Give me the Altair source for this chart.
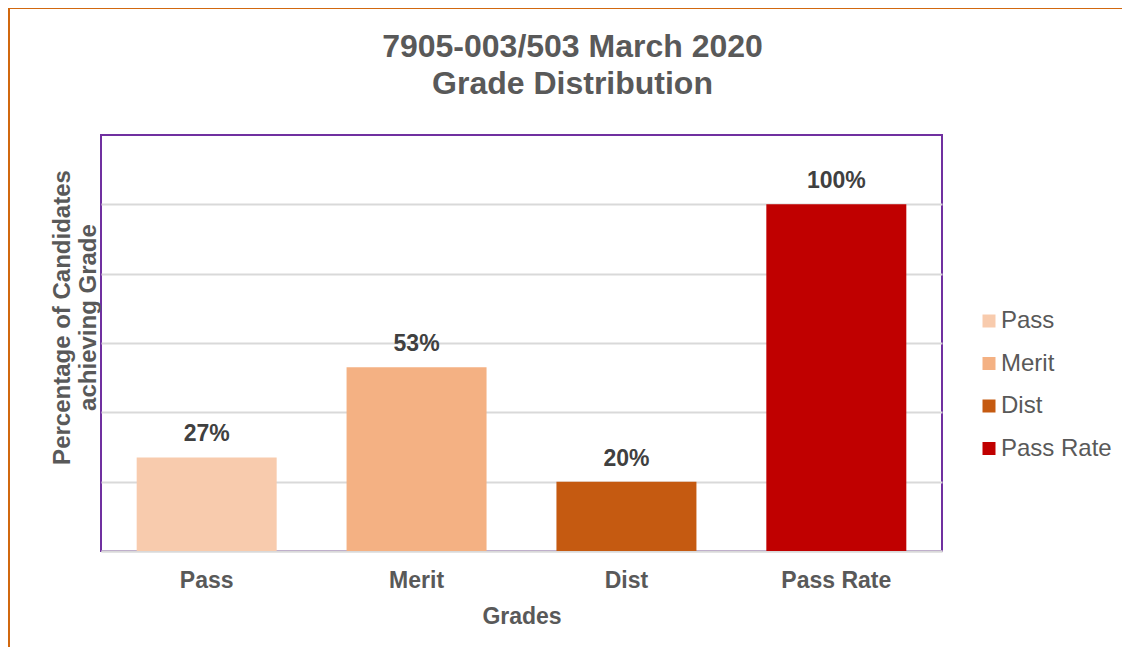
import altair as alt
import pandas as pd

grades = ["Pass", "Merit", "Dist", "Pass Rate"]
percentages = [27, 53, 20, 100]
labels = ["27%", "53%", "20%", "100%"]
colors = ["#F8CBAD", "#F4B183", "#C55A11", "#C00000"]

df = pd.DataFrame({"Grade": grades, "Value": percentages, "Label": labels})

GRAY = "#595959"
FONT = "Liberation Sans"

x_enc = alt.X(
    "Grade:N",
    sort=grades,
    scale=alt.Scale(paddingInner=0.333, paddingOuter=0.17),
    axis=alt.Axis(
        title="Grades",
        labelAngle=0,
        labelFont=FONT,
        labelFontSize=23,
        labelFontWeight="bold",
        labelColor=GRAY,
        labelPadding=18,
        ticks=False,
        domain=True,
        domainColor="#D9D9D9",
        domainWidth=2,
        titleFont=FONT,
        titleFontSize=23,
        titleFontWeight="bold",
        titleColor=GRAY,
        titleBaseline="top",
        titleY=54,
    ),
)

y_enc = alt.Y(
    "Value:Q",
    scale=alt.Scale(domain=[0, 120], nice=False),
    axis=alt.Axis(
        title=["Percentage of Candidates", "achieving Grade"],
        values=[0, 20, 40, 60, 80, 100],
        labels=False,
        ticks=False,
        domain=False,
        grid=True,
        gridColor="#D9D9D9",
        gridWidth=2,
        titleFont=FONT,
        titleFontSize=24,
        titleFontWeight="bold",
        titleColor=GRAY,
        titleAngle=-90,
        titleAlign="center",
        titleBaseline="middle",
        titleLineHeight=26,
        titleX=-39,
        titleY=182,
    ),
)

bars = alt.Chart(df).mark_bar().encode(
    x=x_enc,
    y=y_enc,
    color=alt.Color(
        "Grade:N",
        sort=grades,
        scale=alt.Scale(domain=grades, range=colors),
        legend=alt.Legend(
            title=None,
            orient="none",
            legendX=876,
            legendY=174,
            symbolType="square",
            symbolSize=169,
            symbolStrokeWidth=0,
            labelFont=FONT,
            labelFontSize=24,
            labelColor=GRAY,
            labelOffset=0,
            rowPadding=18.5,
            padding=0,
        ),
    ),
)

text = alt.Chart(df).mark_text(
    font=FONT,
    fontSize=23,
    fontWeight="bold",
    color="#404040",
    baseline="alphabetic",
    dy=-16,
).encode(
    x=alt.X("Grade:N", sort=grades),
    y=alt.Y("Value:Q"),
    text="Label:N",
)

frame_left = alt.Chart(df).mark_rule(color="#D0690F", strokeWidth=1.5).encode(
    x=alt.value(-92), y=alt.value(-127), y2=alt.value(530)
)
frame_top = alt.Chart(df).mark_rule(color="#D0690F", strokeWidth=1.5).encode(
    x=alt.value(-92), x2=alt.value(1040), y=alt.value(-127)
)

chart = (
    alt.layer(bars, text, frame_left, frame_top)
    .properties(
        width=841,
        height=416,
        view=alt.ViewBackground(stroke="#7030A0", strokeWidth=2),
        title=alt.TitleParams(
            ["7905-003/503 March 2020", "Grade Distribution"],
            font=FONT,
            fontSize=32,
            fontWeight="bold",
            color=GRAY,
            anchor="middle",
            dx=51,
            dy=126,
            offset=0,
            baseline="bottom",
            lineHeight=37,
        ),
        autosize=alt.AutoSizeParams(type="none"),
        padding={"left": 93, "top": 127, "right": 180, "bottom": 96},
    )
    .configure_view(stroke="#7030A0", strokeWidth=2)
    .configure(background="white")
)

chart.save("out.html", embed_options={"renderer": "svg", "actions": False})
